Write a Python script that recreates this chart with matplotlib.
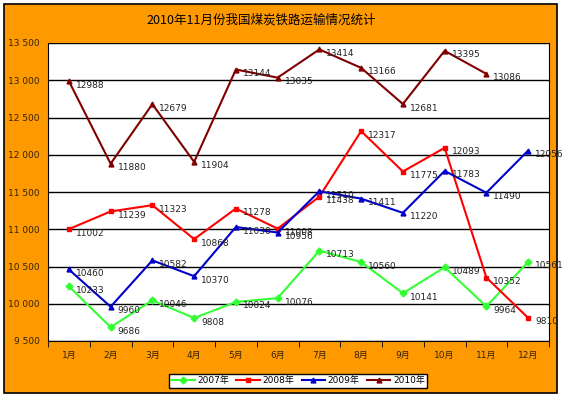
import matplotlib
matplotlib.use("Agg")
import matplotlib.pyplot as plt
from matplotlib.patches import Rectangle
from matplotlib.ticker import FuncFormatter

plt.rcParams['font.family'] = ['DejaVu Sans', 'Noto Sans CJK SC']

months = ['1月', '2月', '3月', '4月', '5月', '6月', '7月', '8月', '9月', '10月', '11月', '12月']
v2007 = [10233, 9686, 10046, 9808, 10024, 10076, 10713, 10560, 10141, 10489, 9964, 10561]
v2008 = [11002, 11239, 11323, 10868, 11278, 11008, 11438, 12317, 11775, 12093, 10352, 9810]
v2009 = [10460, 9960, 10582, 10370, 11030, 10956, 11510, 11411, 11220, 11783, 11490, 12056]
v2010 = [12988, 11880, 12679, 11904, 13144, 13035, 13414, 13166, 12681, 13395, 13086]
series = [('2007年', v2007, '#33FF33', 'D'),
          ('2008年', v2008, '#FF0000', 's'),
          ('2009年', v2009, '#0000CC', '^'),
          ('2010年', v2010, '#800000', '^')]

orange = '#FF9900'
fig = plt.figure(figsize=(5.62, 3.97), dpi=100)
fig.patch.set_facecolor('white')
frame = Rectangle((4/562, 4/397), 553/562, 389/397, transform=fig.transFigure,
                  facecolor=orange, edgecolor='black', linewidth=1.2, zorder=-10)
fig.add_artist(frame)

ax = fig.add_axes([48/562, 1 - 341/397, 501/562, 298/397])
ax.set_zorder(1)
ax.set_facecolor('white')

x = list(range(len(months)))
for name, vals, color, mk in series:
    xs = x[:len(vals)]
    ax.plot(xs, vals, color=color, marker=mk, markersize=3.5, linewidth=1.5, label=name, zorder=3,
            clip_on=False)
    for xi, v in zip(xs, vals):
        ax.annotate(str(v), (xi, v), xytext=(7, -4), textcoords='offset pixels',
                    fontsize=6.5, color='#222222', va='center', ha='left', zorder=4,
                    annotation_clip=False)

ax.set_xlim(-0.5, 11.5)
ax.set_ylim(9500, 13500)
ax.set_yticks(range(9500, 13501, 500))
ax.yaxis.set_major_formatter(FuncFormatter(lambda v, p: f"{int(v):,}".replace(',', ' ')))
ax.yaxis.grid(True, color='black', linewidth=1)
ax.set_axisbelow(True)
ax.set_xticks(x)
ax.set_xticklabels(months)
ax.set_xticks([i + 0.5 for i in range(-1, 12)], minor=True)
ax.tick_params(axis='x', which='major', length=0, pad=7, labelsize=6.5, labelcolor='#332200')
ax.tick_params(axis='x', which='minor', length=4, color='black')
ax.tick_params(axis='y', length=0, pad=6, labelsize=6.5, labelcolor='#332200')
ax.spines['top'].set_visible(False)
for s in ['left', 'bottom', 'right']:
    ax.spines[s].set_color('black')

fig.text(261/562, 1 - 20/397, '2010年11月份我国煤炭铁路运输情况统计', ha='center', va='center',
         fontsize=9, family=['Noto Sans CJK SC', 'DejaVu Sans'])

leg = fig.legend(loc='center', bbox_to_anchor=(298/562, 1 - 381/397), ncol=4,
                 frameon=True, fancybox=False, edgecolor='black', facecolor='white', framealpha=1,
                 handlelength=2.6, columnspacing=0.8, handletextpad=0.3, borderpad=0.25,
                 prop={'family': ['DejaVu Sans', 'Noto Sans CJK SC'], 'size': 6.5})
leg.get_frame().set_linewidth(1)

fig.savefig('out.png', dpi=100, facecolor=fig.get_facecolor())
